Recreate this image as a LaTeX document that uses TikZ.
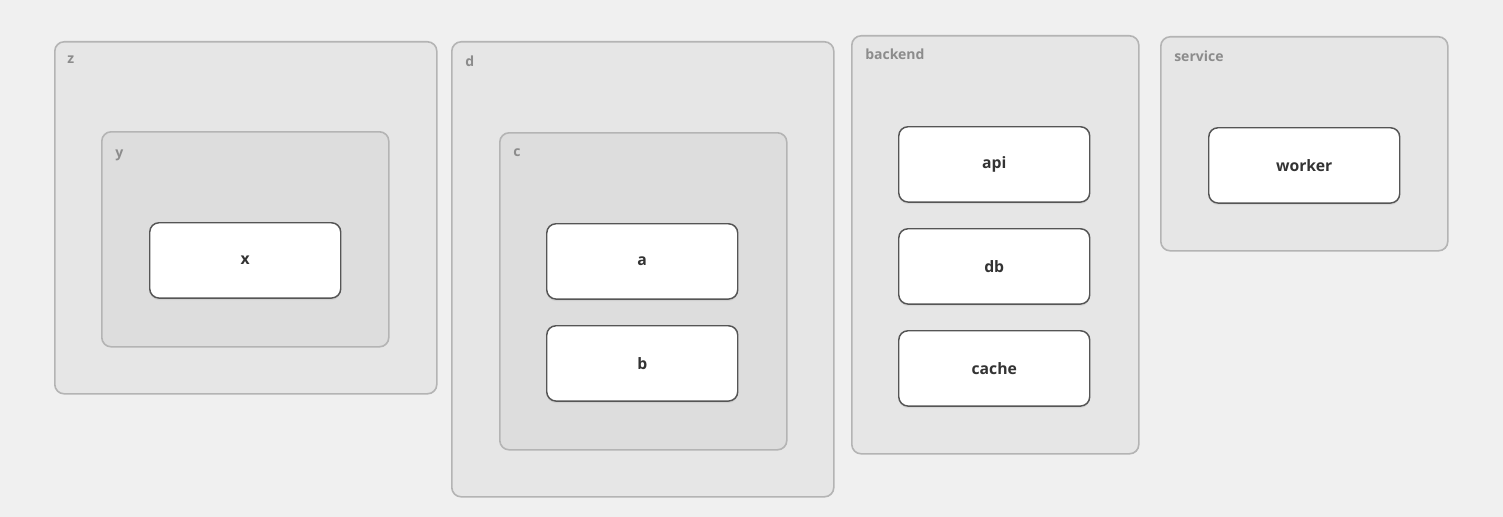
\documentclass[tikz,border=0pt]{standalone}
\usepackage{fontspec}
\setmainfont{Open Sans}
\definecolor{bgc}{HTML}{F0F0F0}
\definecolor{grpA}{HTML}{E6E6E6}
\definecolor{grpB}{HTML}{DDDDDD}
\definecolor{grpline}{HTML}{B4B4B4}
\definecolor{grplabel}{HTML}{8C8C8C}
\definecolor{nodeline}{HTML}{555555}
\definecolor{nodetext}{HTML}{333333}
\begin{document}
\begin{tikzpicture}[x=0.75pt,y=-0.75pt,
  grp/.style={draw=grpline,line width=1.2pt,rounded corners=7pt,anchor=north west,inner sep=0pt},
  outergrp/.style={grp,fill=grpA},
  innergrp/.style={grp,fill=grpB},
  grplbl/.style={anchor=west,font=\fontsize{10.5}{12}\selectfont\bfseries,text=grplabel,inner sep=0pt},
  box/.style={draw=nodeline,line width=1.1pt,fill=white,rounded corners=7pt,anchor=north west,inner sep=0pt,
     minimum width=143.25pt,minimum height=56.5pt,
     preaction={fill=black,fill opacity=0.06,transform canvas={yshift=-1.5pt}}},
  boxlbl/.style={font=\fontsize{11.8}{14}\selectfont\bfseries,text=nodetext}]
\useasboundingbox (0,0) rectangle (1503,517);
\fill[bgc] (0,0) rectangle (1503,517);
% z
\node[outergrp,minimum width=286.5pt,minimum height=264pt] (z) at (54,41) {};
\node[grplbl] (zl) at (67,60) {z};
\node[innergrp,minimum width=215.25pt,minimum height=161.25pt] (y) at (101,131) {};
\node[grplbl] (yl) at (115,155) {y};
\node[box] (x) at (149,222) {};
\node[boxlbl] at (x.center) {x};
% d
\node[outergrp,minimum width=286.5pt,minimum height=341.25pt] (d) at (451,41) {};
\node[grplbl] (dl) at (465,61) {d};
\node[innergrp,minimum width=215.25pt,minimum height=237.75pt] (c) at (499,132) {};
\node[grplbl] (cl) at (513,153) {c};
\node[box] (a) at (546,223) {};
\node[boxlbl] at (a.center) {a};
\node[box] (b) at (546,325) {};
\node[boxlbl] at (b.center) {b};
% backend
\node[outergrp,minimum width=215.25pt,minimum height=313.5pt] (backend) at (851,35) {};
\node[grplbl] (bel) at (865,54) {backend};
\node[box] (api) at (898,126) {};
\node[boxlbl] at (api.center) {api};
\node[box] (db) at (898,228) {};
\node[boxlbl] at (db.center) {db};
\node[box] (cache) at (898,330) {};
\node[boxlbl] at (cache.center) {cache};
% service
\node[outergrp,minimum width=215.25pt,minimum height=160.5pt] (service) at (1160,36) {};
\node[grplbl] (sl) at (1174,56) {service};
\node[box] (worker) at (1208,127) {};
\node[boxlbl] at (worker.center) {worker};
\end{tikzpicture}
\end{document}
